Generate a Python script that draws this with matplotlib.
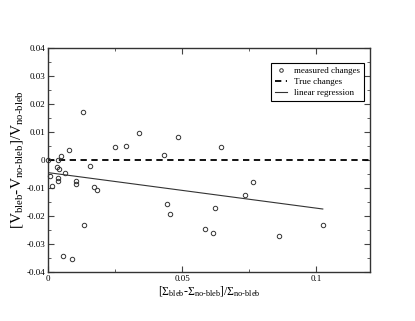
"""Volume change vs. surface change with bleb: measured points, zero line, linear fit."""

import matplotlib
matplotlib.use("Agg")
import matplotlib.pyplot as plt
from matplotlib.ticker import MultipleLocator

plt.rcParams["font.family"] = ["Liberation Serif", "DejaVu Serif"]
plt.rcParams["mathtext.fontset"] = "custom"
plt.rcParams["mathtext.rm"] = "Liberation Serif"
plt.rcParams["mathtext.it"] = "Liberation Serif:italic"

# measured changes
sigma_change = [0.0, 0.00075, 0.0014, 0.0033, 0.0039, 0.0041, 0.0039, 0.0039,
                0.00475, 0.0055, 0.0064, 0.0078, 0.0088, 0.0105, 0.0105, 0.013,
                0.0134, 0.0158, 0.017, 0.0183, 0.0249, 0.0289, 0.034, 0.0431,
                0.0444, 0.0455, 0.0484, 0.0585, 0.0615, 0.0623, 0.0645, 0.0734,
                0.0765, 0.086, 0.1024]
volume_change = [0.0, -0.0056, -0.0093, -0.0024, 0.0, -0.0032, -0.0063, -0.0075,
                 0.0015, -0.0342, -0.0045, 0.0036, -0.0355, -0.0075, -0.0086, 0.0170,
                 -0.0233, -0.0021, -0.0098, -0.0108, 0.0048, 0.0051, 0.0096, 0.0019,
                 -0.0158, -0.0193, 0.0082, -0.0246, -0.026, -0.0171, 0.0045, -0.0125,
                 -0.0079, -0.027, -0.0233]

# true changes (zero) and the linear regression end points
true_x = [0.0, 0.12]
true_y = [0.0, 0.0]
reg_x = [0.0, 0.1024]
reg_y = [-0.0045, -0.0175]

fig = plt.figure(figsize=(4.15, 3.21), dpi=100)
ax = fig.add_axes([0.1157, 0.1526, 0.7759, 0.6979])

ax.plot(sigma_change, volume_change, "o", mfc="none", mec="#333333",
        ms=3.2, mew=0.7, label="measured changes", clip_on=False, zorder=4)
ax.plot(true_x, true_y, "--", color="black", lw=1.3, dashes=(3.5, 2.5),
        label="True changes")
ax.plot(reg_x, reg_y, "-", color="#333333", lw=0.8, label="linear regression")

ax.set_xlim(0, 0.12)
ax.set_ylim(-0.04, 0.04)
ax.xaxis.set_major_locator(MultipleLocator(0.05))
ax.xaxis.set_minor_locator(MultipleLocator(0.025))
ax.yaxis.set_major_locator(MultipleLocator(0.01))
ax.yaxis.set_minor_locator(MultipleLocator(0.005))
ax.set_xticks([0, 0.05, 0.1])
ax.set_xticklabels(["0", "0.05", "0.1"])
ax.set_yticks([0.04, 0.03, 0.02, 0.01, 0, -0.01, -0.02, -0.03, -0.04])
ax.set_yticklabels(["0.04", "0.03", "0.02", "0.01", "0", "-0.01", "-0.02", "-0.03", "-0.04"])
ax.tick_params(which="both", direction="in", top=True, right=True,
               labelsize=6.5, color="#444444", pad=2)
ax.tick_params(which="major", length=4, width=0.8)
ax.tick_params(which="minor", length=2, width=0.6)
for sp in ax.spines.values():
    sp.set_linewidth(1.0)
    sp.set_color("#333333")

ax.set_xlabel(r"[$\Sigma_{\mathrm{bleb}}$-$\Sigma_{\text{no-bleb}}$]/$\Sigma_{\text{no-bleb}}$",
              fontsize=8.5, labelpad=1)
ax.set_ylabel(r"[V$_{\mathrm{bleb}}$-V$_{\text{no-bleb}}$]/V$_{\text{no-bleb}}$",
              fontsize=11, labelpad=1)

leg = ax.legend(loc="upper right", bbox_to_anchor=(0.981, 0.935), borderaxespad=0,
                fontsize=6.5, frameon=True, fancybox=False, edgecolor="black",
                framealpha=1, handlelength=1.3, handletextpad=0.8, markerscale=0.8,
                borderpad=0.45, labelspacing=0.3)
leg.get_frame().set_linewidth(0.8)

fig.savefig("out.png", dpi=100)
